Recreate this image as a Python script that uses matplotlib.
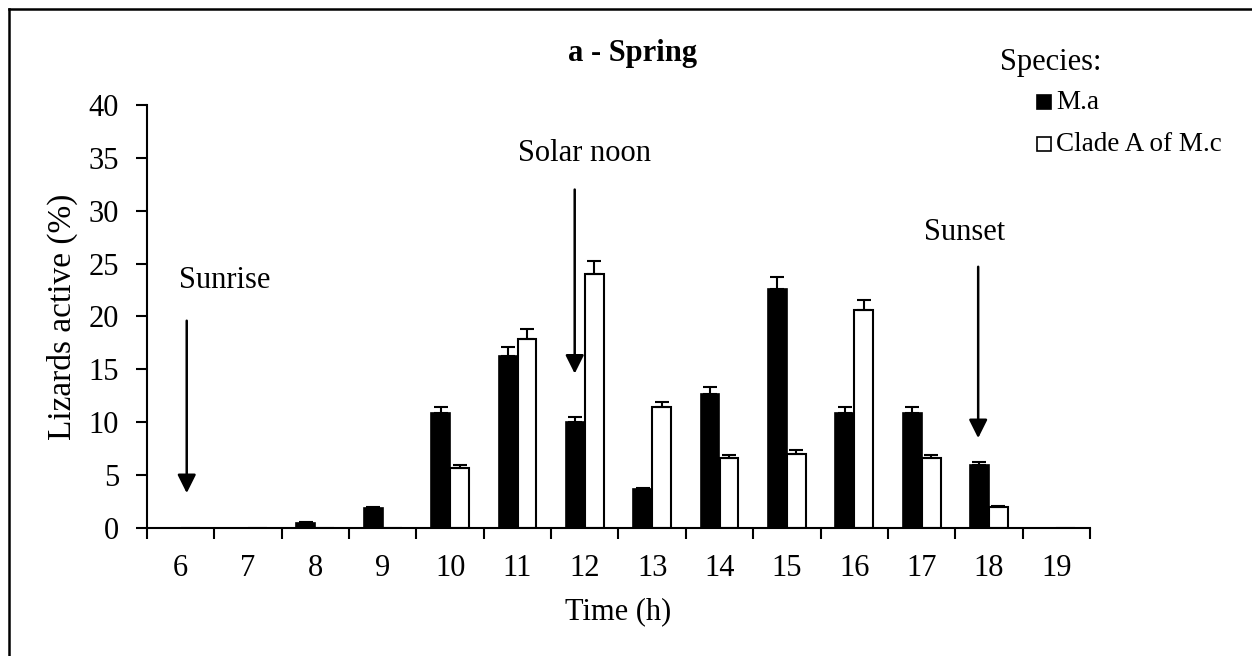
import numpy as np
import matplotlib
matplotlib.use("Agg")
import matplotlib.pyplot as plt
from matplotlib.lines import Line2D

plt.rcParams['font.family'] = ['Liberation Serif', 'DejaVu Serif']

# Hour of day (category axis)
hours = [6, 7, 8, 9, 10, 11, 12, 13, 14, 15, 16, 17, 18, 19]

# Percentage of lizards active, with standard errors
ma_active = [0, 0, 0.5, 1.85, 10.9, 16.3, 10.0, 3.65, 12.7, 22.6, 10.9, 10.9, 6.0, 0]
ma_err = [0, 0, 0.05, 0.1, 0.5, 0.8, 0.45, 0.12, 0.65, 1.15, 0.5, 0.5, 0.28, 0]
mc_active = [0, 0, 0, 0, 5.65, 17.9, 24.05, 11.4, 6.6, 7.0, 20.6, 6.6, 2.0, 0]
mc_err = [0, 0, 0, 0, 0.3, 0.9, 1.15, 0.5, 0.3, 0.35, 1.0, 0.3, 0.05, 0]

series_names = ['M.a', 'Clade A of M.c']

# Sun events: (label, hour, arrow top, arrow tip, label x, label y)
events = [
    ('Sunrise', 6.09, 19.6, 3.3, 6.66, 23.4),
    ('Solar noon', 11.85, 32.0, 14.6, 12.0, 35.4),
    ('Sunset', 17.84, 24.7, 8.5, 17.64, 27.9),
]


def plot_activity(save_path="out.png"):
    fig = plt.figure(figsize=(12.52, 6.56), dpi=100)
    ax = fig.add_axes([0.1174, 0.1951, 0.8706 - 0.1174, 0.84 - 0.1951])

    x = np.array(hours, dtype=float)
    w = 0.28
    off = 0.141

    ax.bar(x - off, ma_active, width=w, color='black', edgecolor='black', linewidth=1.2)
    ax.bar(x + off, mc_active, width=w, color='white', edgecolor='black', linewidth=1.5)

    # upper-only error bars
    for xs, vals, errs in [(x - off, ma_active, ma_err), (x + off, mc_active, mc_err)]:
        v = np.array(vals)
        e = np.array(errs)
        keep = v > 0
        ax.errorbar(xs[keep], v[keep], yerr=[np.zeros(keep.sum()), e[keep]],
                    fmt='none', ecolor='black', elinewidth=1.5, capsize=5, capthick=1.5)

    ax.set_xlim(5.5, 19.5)
    ax.set_ylim(0, 40)
    ax.set_yticks(range(0, 45, 5))

    # category boundaries carry the ticks, centres carry the labels
    ax.set_xticks(np.arange(5.5, 19.6, 1.0))
    ax.set_xticklabels([])
    ax.set_xticks(x, minor=True)
    ax.set_xticklabels([str(h) for h in hours], minor=True)
    ax.tick_params(axis='x', which='major', direction='out', length=8, width=1.5)
    ax.tick_params(axis='x', which='minor', length=0, pad=19, labelsize=22)
    ax.tick_params(axis='y', direction='out', length=8, width=1.5, pad=12, labelsize=22)

    for s in ['top', 'right']:
        ax.spines[s].set_visible(False)
    for s in ['left', 'bottom']:
        ax.spines[s].set_linewidth(1.5)

    ax.set_xlabel('Time (h)', fontsize=22, labelpad=10)
    ax.set_ylabel('Lizards active (%)', fontsize=24, labelpad=8)

    for label, hx, top, tip, tx, ty in events:
        ax.annotate('', xy=(hx, tip), xytext=(hx, top),
                    arrowprops=dict(arrowstyle='-|>', color='black', lw=1.8,
                                    mutation_scale=28, shrinkA=0, shrinkB=0))
        ax.text(tx, ty, label, fontsize=22, ha='center', va='center')

    fig.text(0.505, 0.918, 'a - Spring', fontsize=22, fontweight='bold',
             ha='center', va='center')

    # species key
    fig.text(0.799, 0.905, 'Species:', fontsize=22, va='center')
    key_y = [0.844, 0.780]
    for (name, face), ky in zip(zip(series_names, ['black', 'white']), key_y):
        fig.add_artist(Line2D([0.8335], [ky], marker='s', markersize=10,
                              markerfacecolor=face, markeredgecolor='black',
                              markeredgewidth=1.2, linestyle='none',
                              transform=fig.transFigure))
        fig.text(0.8435, ky, name, fontsize=19.5, va='center')

    # frame lines along the top and left edges
    fig.add_artist(Line2D([0.0072, 0.0072], [0, 0.9863], color='black', lw=1.8,
                          transform=fig.transFigure))
    fig.add_artist(Line2D([0.0072, 1.0], [0.9863, 0.9863], color='black', lw=1.8,
                          transform=fig.transFigure))

    fig.savefig(save_path, dpi=100)
    plt.close(fig)
    return save_path


if __name__ == "__main__":
    plot_activity()
